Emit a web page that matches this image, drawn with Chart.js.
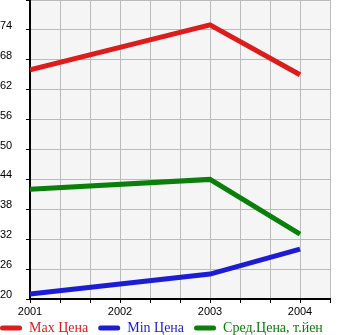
<!DOCTYPE html>
<html>
<head>
<meta charset="utf-8">
<script src="https://cdn.jsdelivr.net/npm/chart.js@4/dist/chart.umd.min.js"></script>
<style>
  html, body { margin: 0; padding: 0; background: #fff; }
  #wrap { width: 345px; height: 335px; }
</style>
</head>
<body>
<div id="wrap"><canvas id="priceChart"></canvas></div>
<script>
const years = [2001, 2003, 2004]
const maxPrice = [66, 75, 65]
const minPrice = [21, 25, 30]
const avgPrice = [42, 44, 33]
const seriesNames = ['Max Цена', 'Min Цена', 'Сред.Цена, т.йен']
const seriesColors = ['#dd1c1c', '#1c1cd6', '#0a800a']

// x axis counts in thirds of a year, so the grid has 3 cells per year
function toPoints(values) {
    return values.map((v, i) => ({x: (years[i] - years[0]) * 3, y: v}))
}

// grey plot background
const plotBg = {
    id: 'plotBg',
    beforeDraw(chart) {
        const a = chart.chartArea
        const ctx = chart.ctx
        ctx.save()
        ctx.fillStyle = '#f5f5f5'
        ctx.fillRect(a.left, a.top, a.right - a.left, a.bottom - a.top)
        ctx.restore()
    }
}

// legend sits flush left and a bit higher than its box
const legendShift = {
    id: 'legendShift',
    afterLayout(chart) {
        const lg = chart.legend
        lg.left -= 10
        lg.right -= 10
        lg.top -= 8
        lg.bottom -= 8
    }
}

function drawChart() {
    const ctx = document.getElementById('priceChart')
    const series = [maxPrice, minPrice, avgPrice]

    const data = {
        datasets: series.map((vals, i) => ({
            label: seriesNames[i],
            data: toPoints(vals),
            borderColor: seriesColors[i],
            backgroundColor: seriesColors[i],
            borderWidth: 5,
            pointRadius: 0,
            fill: false,
            tension: 0
        }))
    }

    const config = {
        type: 'line',
        data: data,
        options: {
            responsive: true,
            maintainAspectRatio: false,
            animation: false,
            layout: {padding: {left: 0, right: 0, top: 0, bottom: -18}},
            scales: {
                x: {
                    type: 'linear',
                    min: 0,
                    max: 10,
                    afterFit: (s) => { s.height = 20; s.paddingLeft = 0; s.paddingRight = 0 },
                    border: {color: '#000', width: 2},
                    grid: {color: '#bbb', tickColor: '#000', tickLength: 4},
                    ticks: {
                        stepSize: 1,
                        autoSkip: false,
                        maxRotation: 0,
                        padding: 2,
                        color: '#000',
                        font: {family: 'Liberation Sans', size: 11},
                        callback: (v) => v % 3 === 0 ? String(years[0] + v / 3) : ''
                    }
                },
                y: {
                    min: 20,
                    max: 80,
                    afterFit: (s) => { s.width = 30; s.paddingTop = 0; s.paddingBottom = 0 },
                    border: {color: '#000', width: 2},
                    grid: {color: '#bbb', tickColor: '#000', tickLength: 4},
                    ticks: {
                        stepSize: 6,
                        crossAlign: 'far',
                        labelOffset: -4,
                        color: '#000',
                        font: {family: 'Liberation Sans', size: 11},
                        callback: (v) => v === 80 ? '' : String(v)
                    }
                },
                // empty strip on the right of the plot
                yRight: {
                    position: 'right',
                    min: 20,
                    max: 80,
                    afterFit: (s) => { s.width = 15; s.paddingTop = 0; s.paddingBottom = 0 },
                    border: {display: false},
                    grid: {display: false},
                    ticks: {display: false}
                }
            },
            plugins: {
                tooltip: {enabled: false},
                legend: {
                    position: 'bottom',
                    align: 'start',
                    labels: {
                        boxWidth: 22,
                        boxHeight: 5,
                        padding: 10,
                        useBorderRadius: true,
                        borderRadius: 2.5,
                        font: {family: 'Liberation Serif', size: 14},
                        generateLabels: (chart) => chart.data.datasets.map((ds, i) => ({
                            text: ds.label,
                            fillStyle: ds.borderColor,
                            strokeStyle: ds.borderColor,
                            fontColor: ds.borderColor,
                            lineWidth: 0,
                            borderRadius: 2.5,
                            datasetIndex: i
                        }))
                    }
                }
            }
        },
        plugins: [plotBg, legendShift]
    }

    new Chart(ctx, config)
}

document.addEventListener('DOMContentLoaded', drawChart)
</script>
</body>
</html>
